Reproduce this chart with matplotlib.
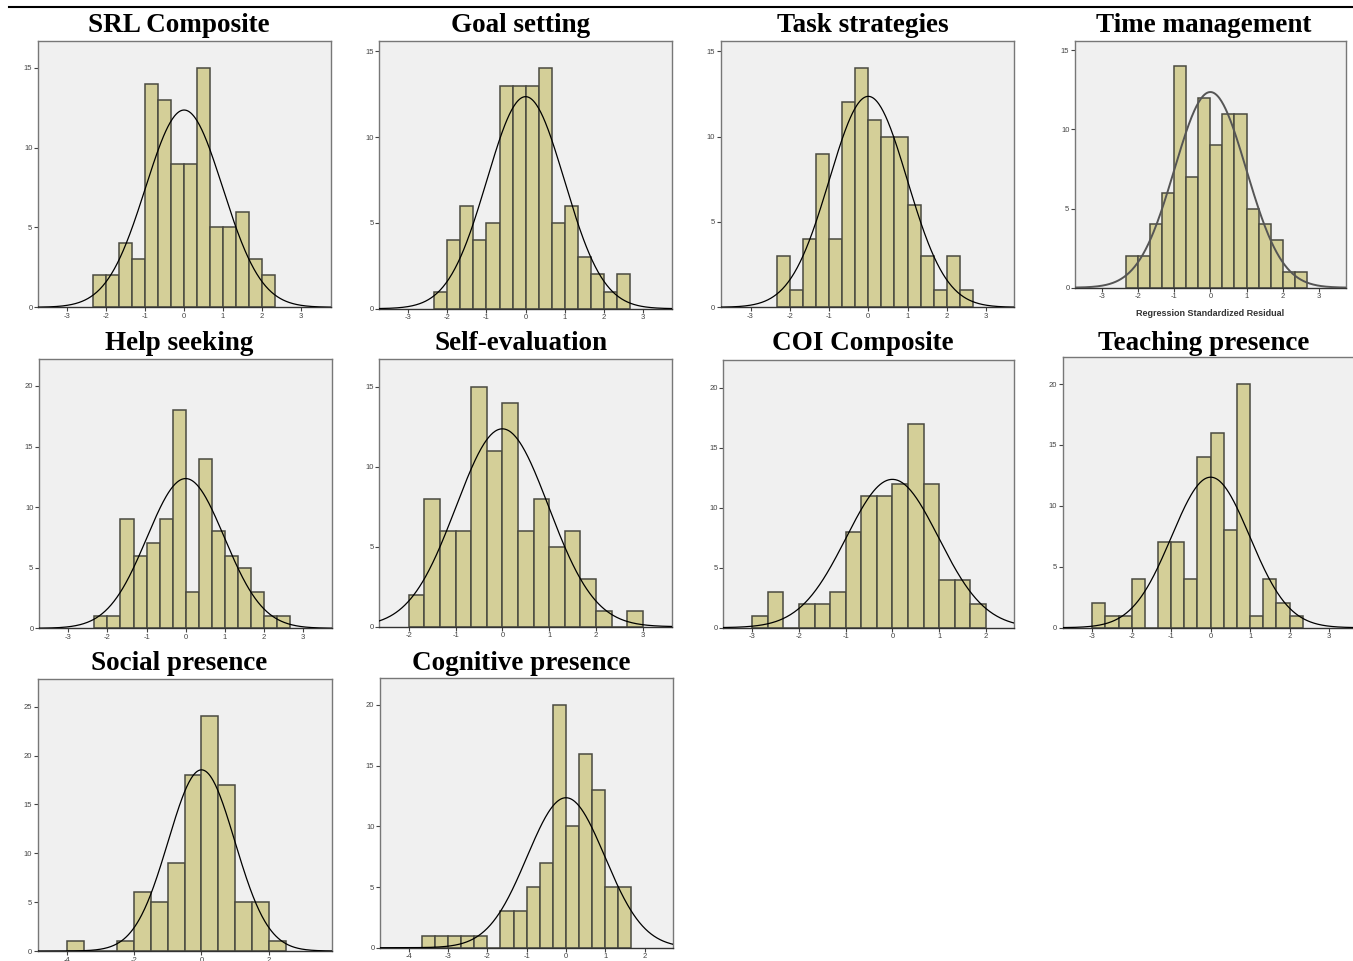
import numpy as np
import matplotlib
matplotlib.use("Agg")
import matplotlib.pyplot as plt

plt.rcParams["axes.unicode_minus"] = False

# ---------------- data ----------------
titles = ["SRL Composite", "Goal setting", "Task strategies", "Time management",
          "Help seeking", "Self-evaluation", "COI Composite", "Teaching presence",
          "Social presence", "Cognitive presence"]

counts_srl = [2, 2, 4, 3, 14, 13, 9, 9, 15, 5, 5, 6, 3, 2]
counts_goal = [1, 4, 6, 4, 5, 13, 13, 13, 14, 5, 6, 3, 2, 1, 2]
counts_task = [3, 1, 4, 9, 4, 12, 14, 11, 10, 10, 6, 3, 1, 3, 1]
counts_time = [2, 2, 4, 6, 14, 7, 12, 9, 11, 11, 5, 4, 3, 1, 1]
counts_help = [1, 1, 9, 6, 7, 9, 18, 3, 14, 8, 6, 5, 3, 1, 1]
counts_self = [2, 8, 6, 6, 15, 11, 14, 6, 8, 5, 6, 3, 1, 0, 1]
counts_coi = [1, 3, 0, 2, 2, 3, 8, 11, 11, 12, 17, 12, 4, 4, 2]
counts_teach = [2, 1, 1, 4, 0, 7, 7, 4, 14, 16, 8, 20, 1, 4, 2, 1]
counts_social = [1, 0, 0, 1, 6, 5, 9, 18, 24, 17, 5, 5, 1]
counts_cog = [1, 1, 1, 1, 1, 0, 3, 3, 5, 7, 20, 10, 16, 13, 5, 5]

all_counts = [counts_srl, counts_goal, counts_task, counts_time, counts_help,
              counts_self, counts_coi, counts_teach, counts_social, counts_cog]
bin_starts = [-7/3, -7/3, -7/3, -7/3, -7/3, -2.0, -3.0, -3.0, -4.0, -11/3]
bin_widths = [1/3, 1/3, 1/3, 1/3, 1/3, 1/3, 1/3, 1/3, 0.5, 1/3]
n_obs = 92
fit_mean = 0.0
fit_sd = 0.99

x_ticks = [[-3, -2, -1, 0, 1, 2, 3]] * 5 + [[-2, -1, 0, 1, 2, 3],
           [-3, -2, -1, 0, 1, 2], [-3, -2, -1, 0, 1, 2, 3], [-4, -2, 0, 2],
           [-4, -3, -2, -1, 0, 1, 2]]
y_ticks = [[0, 5, 10, 15]] * 4 + [[0, 5, 10, 15, 20], [0, 5, 10, 15],
           [0, 5, 10, 15, 20], [0, 5, 10, 15, 20], [0, 5, 10, 15, 20, 25],
           [0, 5, 10, 15, 20]]

# ---------------- layout (pixels) ----------------
W, H = 1353, 961
boxes = [  # left, right, top, bottom
    (38, 331, 40.7, 307.3), (379.3, 672.3, 41, 308.7), (720.7, 1014.3, 41, 307.3),
    (1075, 1345.7, 40.7, 287.7),
    (39, 332.3, 359.3, 628.3), (379.3, 671.7, 359.3, 626.7), (723.3, 1014.3, 360, 627.7),
    (1062.7, 1358.6, 357.3, 627.7),
    (37.7, 332, 679.3, 951), (380, 673.3, 678.3, 947.7)]
xlims = [(-3.75, 3.77), (-3.74, 3.75), (-3.76, 3.72), (-3.74, 3.74), (-3.75, 3.75),
         (-2.63, 3.62), (-3.62, 2.61), (-3.75, 3.75), (-4.87, 3.88), (-4.73, 2.73)]
ylims = [16.7, 15.6, 15.6, 15.6, 22.2, 16.7, 22.3, 22.2, 27.8, 22.2]
title_pos = [(179, 25), (521, 25), (863, 25), (1204, 25),
             (179, 344), (521, 344), (863, 344), (1204, 344),
             (179, 663), (521, 663)]

fig = plt.figure(figsize=(W / 100, H / 100), dpi=100)
fig.patch.set_facecolor("white")

bar_face = "#D4CF98"
bar_edge = "#4a4a40"
bg = "#F0F0F0"

for i in range(10):
    l, r, t, b = boxes[i]
    ax = fig.add_axes([l / W, 1 - b / H, (r - l) / W, (b - t) / H])
    ax.set_facecolor(bg)
    counts = np.array(all_counts[i])
    bw = bin_widths[i]
    edges = bin_starts[i] + bw * np.arange(len(counts))
    ax.bar(edges, counts, width=bw, align="edge", color=bar_face,
           edgecolor=bar_edge, linewidth=1.1, zorder=2)
    x0, x1 = xlims[i]
    xs = np.linspace(x0, x1, 400)
    ys = n_obs * bw * np.exp(-0.5 * ((xs - fit_mean) / fit_sd) ** 2) / (fit_sd * np.sqrt(2 * np.pi))
    ax.plot(xs, ys, color="#555555" if i == 3 else "black",
            linewidth=1.4 if i == 3 else 0.9, zorder=3)
    ax.set_xlim(x0, x1)
    ax.set_ylim(0, ylims[i])
    ax.set_xticks(x_ticks[i])
    ax.set_yticks(y_ticks[i])
    ax.tick_params(axis="both", direction="out", length=3, width=0.8,
                   colors="#444444", labelsize=5.5, pad=1)
    for lab in ax.get_xticklabels() + ax.get_yticklabels():
        lab.set_family("Liberation Sans")
    for s in ax.spines.values():
        s.set_color("#777777")
        s.set_linewidth(1.0)
    ax.spines["bottom"].set_color("#333333")
    if i == 3:
        ax.set_xlabel("Regression Standardized Residual", fontsize=6.5,
                      fontweight="bold", color="#333333", labelpad=6,
                      family="Liberation Sans")
    tx, ty = title_pos[i]
    fig.text(tx / W, 1 - ty / H, titles[i], ha="center", va="center",
             fontsize=19.5, fontweight="bold", family="Liberation Serif")

# top border line
fig.add_artist(plt.Line2D([9 / W, 1.0], [1 - 6.5 / H, 1 - 6.5 / H],
                          color="black", linewidth=1.5))

fig.savefig("out.png", dpi=100)
